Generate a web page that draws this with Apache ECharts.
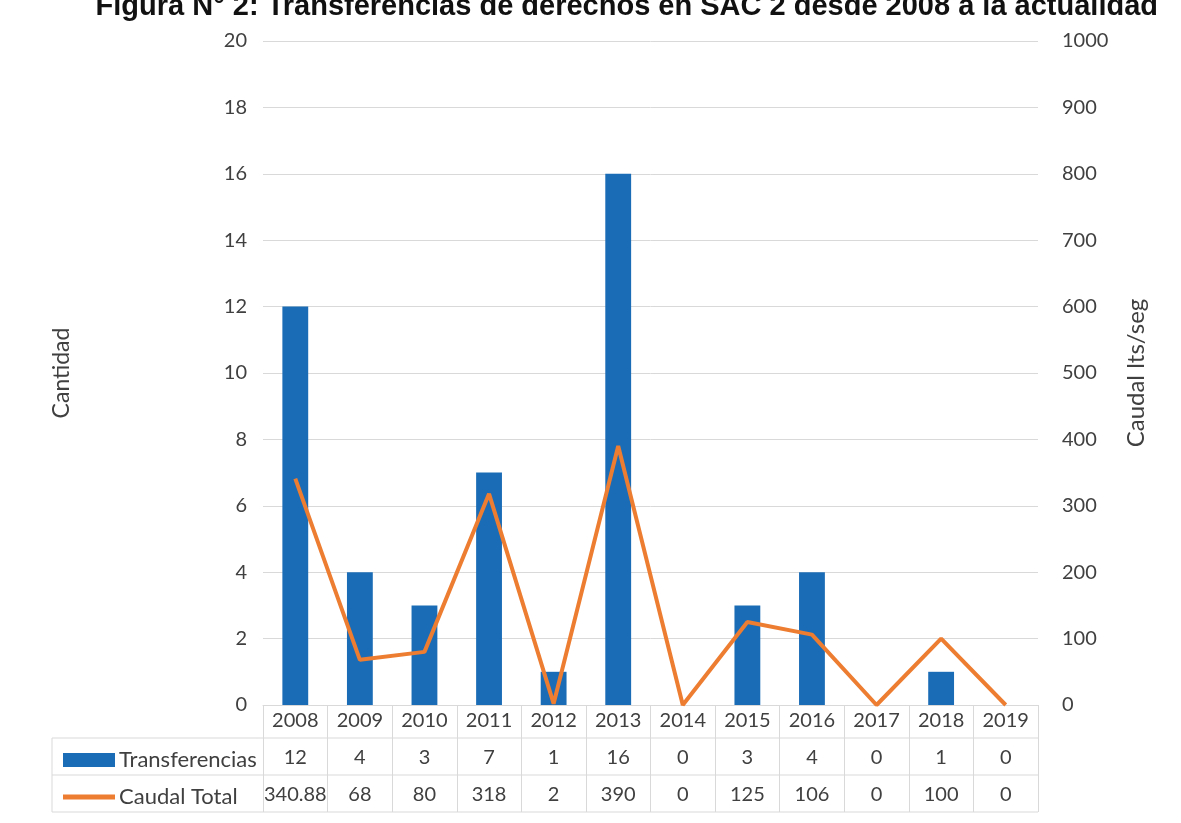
<!DOCTYPE html>
<html>
<head>
<meta charset="utf-8">
<script src="https://cdn.jsdelivr.net/npm/echarts@6/dist/echarts.min.js"></script>
<style>
  html, body { margin: 0; padding: 0; background: #fff; }
  #main { width: 1181px; height: 823px; }
</style>
</head>
<body>
<div id="main"></div>
<script>
// datos
const years = ['2008', '2009', '2010', '2011', '2012', '2013', '2014', '2015', '2016', '2017', '2018', '2019']
const transferencias = [12, 4, 3, 7, 1, 16, 0, 3, 4, 0, 1, 0]
const caudalTotal = [340.88, 68, 80, 318, 2, 390, 0, 125, 106, 0, 100, 0]

const txt = '#404040'
const gridC = '#d9d9d9'
const font = 'Lato, "Open Sans", sans-serif'

const chart = echarts.init(document.getElementById('main'))

// filas de la tabla de datos bajo el eje
const hLine = (y) => ({
  type: 'line',
  shape: { x1: 52, y1: y, x2: 1038, y2: y },
  style: { stroke: gridC, lineWidth: 1 }
})

const option = {
  backgroundColor: '#fff',
  animation: false,
  title: {
    text: 'Figura N° 2: Transferencias de derechos en SAC 2 desde 2008 a la actualidad',
    right: 18,
    top: -13,
    textStyle: { fontFamily: '"Liberation Sans", Arial, sans-serif', fontWeight: 'bold', fontSize: 29, color: '#111' }
  },
  legend: {
    orient: 'vertical',
    left: 58,
    top: 744,
    itemGap: 15,
    itemWidth: 52,
    itemHeight: 14,
    textStyle: { fontFamily: font, fontSize: 22, color: txt, padding: [0, 0, 0, -1] },
    data: [
      { name: 'Transferencias', icon: 'rect' },
      { name: 'Caudal Total', icon: 'path://M0,0H52V5H0Z' }
    ]
  },
  grid: { left: 263, right: 143, top: 41, bottom: 118 },
  xAxis: {
    type: 'category',
    data: years,
    axisLine: { lineStyle: { color: gridC } },
    axisTick: { show: true, length: 107, interval: 0, lineStyle: { color: gridC } },
    axisLabel: {
      interval: 0,
      margin: -3,
      formatter: (v, i) => '{y|' + v + '}\n{a|' + transferencias[i] + '}\n{b|' + caudalTotal[i] + '}',
      rich: {
        y: { fontFamily: font, fontSize: 20, color: txt, lineHeight: 37 },
        a: { fontFamily: font, fontSize: 20, color: txt, lineHeight: 37 },
        b: { fontFamily: font, fontSize: 20, color: txt, lineHeight: 37 }
      }
    }
  },
  yAxis: [
    {
      type: 'value',
      min: 0,
      max: 20,
      interval: 2,
      name: 'Cantidad',
      nameLocation: 'middle',
      nameGap: 190,
      nameTextStyle: { fontFamily: font, fontSize: 23, color: txt },
      axisLine: { show: false },
      axisTick: { show: false },
      axisLabel: { margin: 16, fontFamily: font, fontSize: 20, color: txt },
      splitLine: { lineStyle: { color: gridC } }
    },
    {
      type: 'value',
      min: 0,
      max: 1000,
      interval: 100,
      name: 'Caudal lts/seg',
      nameLocation: 'middle',
      nameGap: 86,
      nameTextStyle: { fontFamily: font, fontSize: 24, color: txt },
      axisLine: { show: false },
      axisTick: { show: false },
      axisLabel: { margin: 24, fontFamily: font, fontSize: 20, color: txt, formatter: (v) => String(v) },
      splitLine: { show: false }
    }
  ],
  series: [
    {
      name: 'Transferencias',
      type: 'bar',
      data: transferencias,
      barWidth: '40%',
      itemStyle: { color: '#1b6cb6' }
    },
    {
      name: 'Caudal Total',
      type: 'line',
      yAxisIndex: 1,
      data: caudalTotal,
      symbol: 'none',
      lineStyle: { color: '#ed7d31', width: 4 },
      itemStyle: { color: '#ed7d31' }
    }
  ],
  graphic: [
    hLine(738),
    hLine(775),
    hLine(812),
    { type: 'line', shape: { x1: 52, y1: 738, x2: 52, y2: 812 }, style: { stroke: gridC, lineWidth: 1 } }
  ]
}

chart.setOption(option)
</script>
</body>
</html>
